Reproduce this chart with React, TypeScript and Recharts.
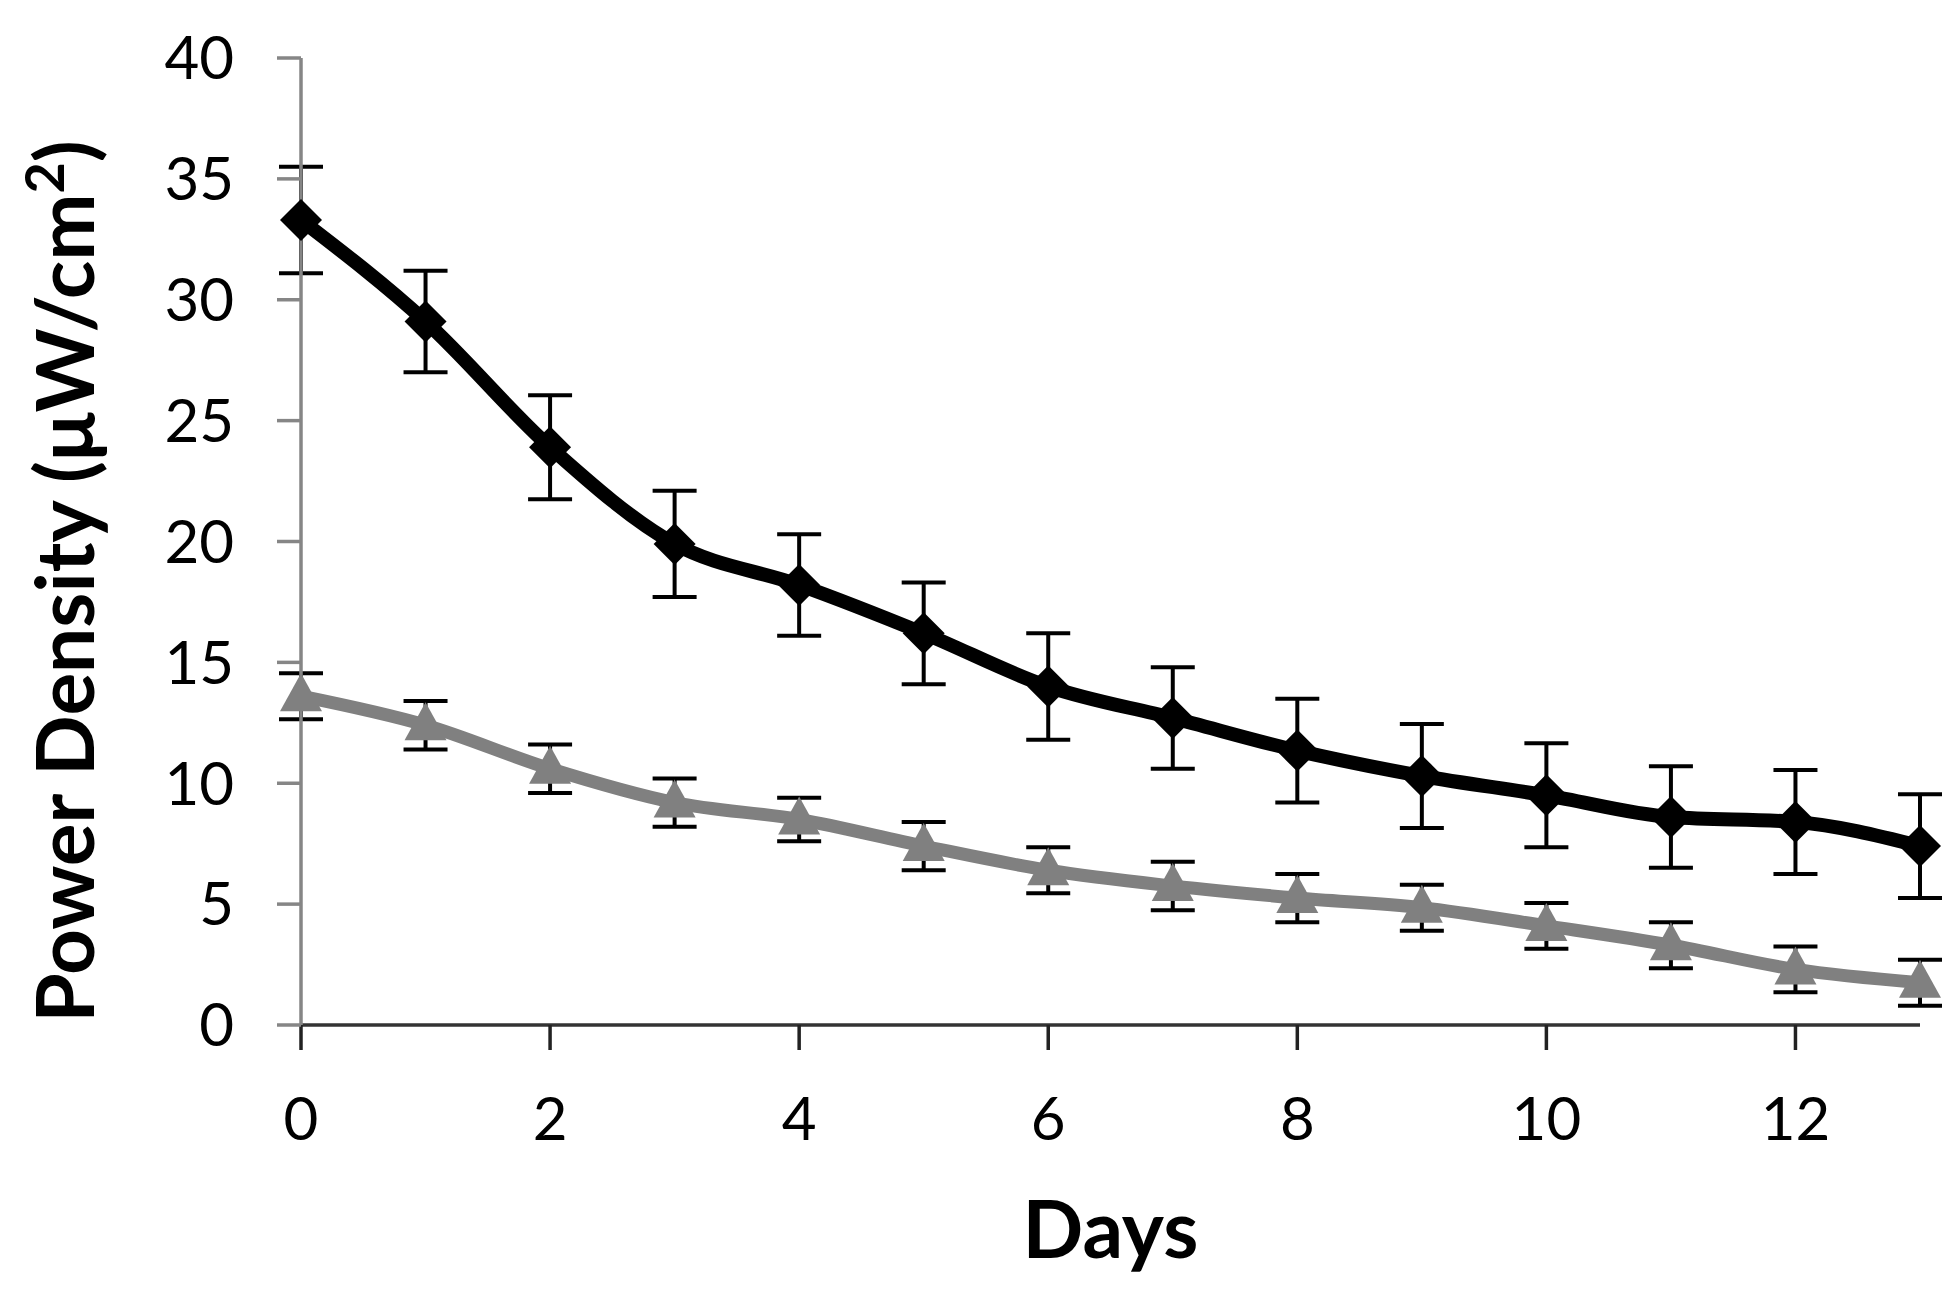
import { LineChart, Line, XAxis, YAxis, ErrorBar, Label } from 'recharts';

const days = [0, 1, 2, 3, 4, 5, 6, 7, 8, 9, 10, 11, 12, 13];
const blackValues = [33.3, 29.1, 23.9, 19.9, 18.2, 16.2, 14.0, 12.7, 11.35, 10.3, 9.5, 8.6, 8.4, 7.4];
const blackErrors = [2.2, 2.1, 2.15, 2.2, 2.1, 2.1, 2.2, 2.1, 2.15, 2.15, 2.15, 2.1, 2.15, 2.15];
const grayValues = [13.6, 12.4, 10.6, 9.2, 8.5, 7.4, 6.4, 5.75, 5.25, 4.85, 4.1, 3.3, 2.3, 1.75];
const grayErrors = [0.95, 1.0, 1.0, 1.0, 0.9, 1.0, 0.95, 1.0, 1.0, 0.95, 0.95, 0.95, 0.95, 0.95];
const xTicks = [0, 2, 4, 6, 8, 10, 12];
const yTicks = [0, 5, 10, 15, 20, 25, 30, 35, 40];

const data = days.map((d, i) => ({
  day: d,
  black: blackValues[i],
  blackErr: blackErrors[i],
  gray: grayValues[i],
  grayErr: grayErrors[i],
}));

const FONT = 'Lato, "Open Sans", sans-serif';

const Diamond = (props: any) => {
  const { cx, cy, index } = props;
  if (cx == null || cy == null) return <g key={index} />;
  const r = 21;
  return (
    <path
      key={index}
      d={`M${cx},${cy - r} L${cx + r},${cy} L${cx},${cy + r} L${cx - r},${cy} Z`}
      fill="#000"
    />
  );
};

const Triangle = (props: any) => {
  const { cx, cy, index } = props;
  if (cx == null || cy == null) return <g key={index} />;
  return (
    <path
      key={index}
      d={`M${cx},${cy - 23} L${cx + 21},${cy + 15} L${cx - 21},${cy + 15} Z`}
      fill="#808080"
    />
  );
};

const YTitle = (props: any) => {
  const vb = props.viewBox || { x: 0, y: 50, width: 293, height: 967 };
  const x = vb.x + 86;
  const y = vb.y + vb.height / 2 + 40;
  return (
    <text
      x={x}
      y={y}
      transform={`rotate(-90, ${x}, ${y})`}
      textAnchor="middle"
      fontFamily={FONT}
      fontWeight="bold"
      fontSize={80}
      fill="#000"
    >
      Power Density (μW/cm
      <tspan dy={-30} fontSize={54}>2</tspan>
      <tspan dy={30}>)</tspan>
    </text>
  );
};

const XTitle = (props: any) => {
  const vb = props.viewBox || { x: 293, y: 1017, width: 1619, height: 268 };
  return (
    <text
      x={vb.x + vb.width / 2}
      y={vb.y + 233}
      textAnchor="middle"
      fontFamily={FONT}
      fontWeight="bold"
      fontSize={80}
      fill="#000"
    >
      Days
    </text>
  );
};

export default function App() {
  return (
    <div style={{ fontFamily: FONT }}>
      <LineChart
        width={1945}
        height={1285}
        data={data}
        margin={{ top: 50, right: 33, left: 0, bottom: 0 }}
      >
        <XAxis
          dataKey="day"
          type="number"
          domain={[0, 13]}
          ticks={xTicks}
          height={268}
          tickSize={25}
          tickMargin={47}
          axisLine={{ stroke: '#333', strokeWidth: 3.5 }}
          tickLine={{ stroke: '#222', strokeWidth: 3.5 }}
          tick={{ fontSize: 60, fill: '#000', fontFamily: FONT }}
        >
          <Label content={XTitle} />
        </XAxis>
        <YAxis
          type="number"
          domain={[0, 40]}
          ticks={yTicks}
          width={293}
          tickSize={24}
          tickMargin={43}
          axisLine={{ stroke: '#868686', strokeWidth: 3.5 }}
          tickLine={{ stroke: '#868686', strokeWidth: 3.5 }}
          tick={{ fontSize: 60, fill: '#000', fontFamily: FONT }}
        >
          <Label content={YTitle} />
        </YAxis>
        <Line
          type="monotone"
          dataKey="black"
          stroke="#000"
          strokeWidth={14}
          dot={Diamond}
          activeDot={false}
          isAnimationActive={false}
        >
          <ErrorBar dataKey="blackErr" direction="y" width={22} strokeWidth={4} stroke="#000" />
        </Line>
        <Line
          type="monotone"
          dataKey="gray"
          stroke="#808080"
          strokeWidth={13}
          dot={Triangle}
          activeDot={false}
          isAnimationActive={false}
        >
          <ErrorBar dataKey="grayErr" direction="y" width={22} strokeWidth={4} stroke="#000" />
        </Line>
      </LineChart>
    </div>
  );
}
